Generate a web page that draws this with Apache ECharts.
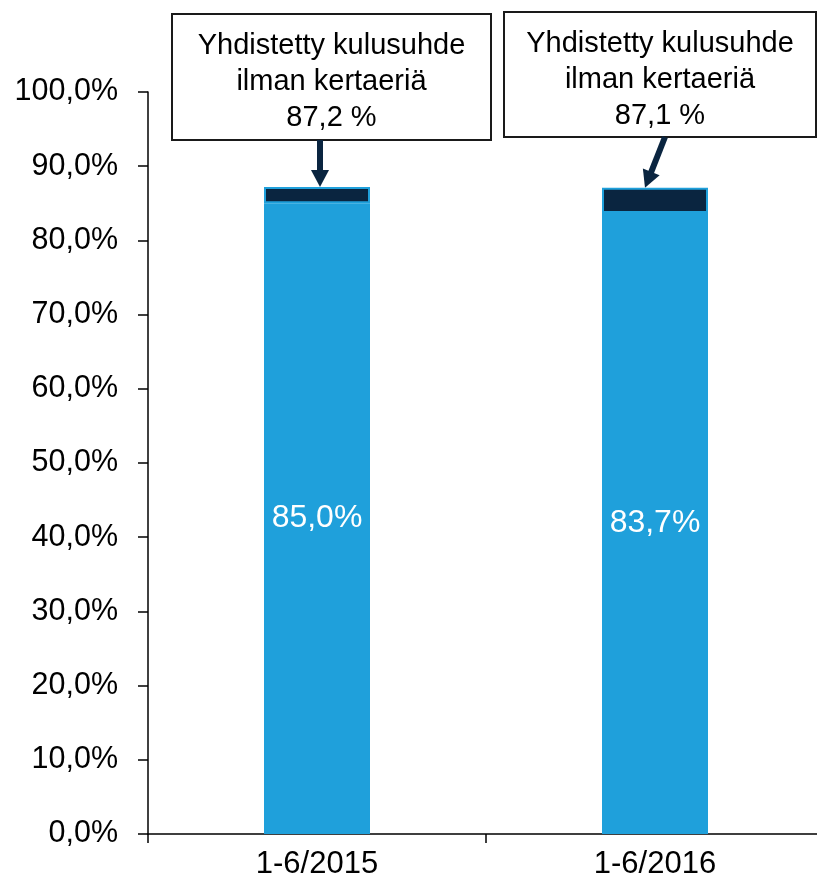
<!DOCTYPE html>
<html>
<head>
<meta charset="utf-8">
<script src="https://cdn.jsdelivr.net/npm/echarts@6/dist/echarts.min.js"></script>
<style>
html, body { margin: 0; padding: 0; background: #fff; }
#main { width: 817px; height: 883px; }
</style>
</head>
<body>
<div id="main"></div>
<script>
var categories = ['1-6/2015', '1-6/2016'];
var baseValues = [85.0, 83.7];
var totalValues = [87.2, 87.1];
var noteLines = ['Yhdistetty kulusuhde', 'ilman kertaeriä'];

// dark cap = total minus the base part
var capValues = totalValues.map(function (t, i) {
    return +(t - baseValues[i]).toFixed(1);
});

var FONT = '"Liberation Sans", Arial, sans-serif';
var lightBlue = '#1fa0db';
var darkBlue = '#0a2540';

var dom = document.getElementById('main');
var myChart = echarts.init(dom, null, {renderer: 'canvas'});

function pct(v) {
    return v.toFixed(1).replace('.', ',') + '%';
}

var option = {
    animation: false,
    backgroundColor: '#fff',
    grid: {left: 148, right: -7, top: 92, bottom: 49, outerBoundsMode: 'none', containLabel: false},
    xAxis: {
        type: 'category',
        data: categories,
        axisLine: {lineStyle: {color: '#000', width: 1.5}},
        axisTick: {show: true, length: 9, lineStyle: {color: '#000', width: 1.5}},
        axisLabel: {color: '#000', fontSize: 31, fontFamily: FONT, margin: 15}
    },
    yAxis: {
        type: 'value',
        min: 0,
        max: 100,
        interval: 10,
        axisLine: {show: true, lineStyle: {color: '#000', width: 1.5}},
        axisTick: {show: true, length: 10, lineStyle: {color: '#000', width: 1.5}},
        splitLine: {show: false},
        axisLabel: {
            color: '#000', fontSize: 30.5, fontFamily: FONT, margin: 30,
            formatter: pct
        }
    },
    series: [{
        type: 'bar',
        stack: 'a',
        data: baseValues,
        barWidth: 106,
        itemStyle: {color: lightBlue},
        label: {
            show: true,
            position: 'inside',
            color: '#fff',
            fontSize: 32,
            fontFamily: FONT,
            formatter: function (p) { return pct(p.value); }
        }
    }, {
        type: 'bar',
        stack: 'a',
        data: capValues,
        barWidth: 106,
        itemStyle: {color: darkBlue, borderColor: lightBlue, borderWidth: 2}
    }]
};
myChart.setOption(option);

// annotation boxes (layout) + arrows pointing to each bar's total
var boxes = [
    {x: 172, y: 14, w: 319, h: 126, from: [320, 140], dx: 3},
    {x: 504, y: 12, w: 312, h: 125, from: [665, 137], dx: -10}
];

var graphics = [];
boxes.forEach(function (b, i) {
    graphics.push({
        type: 'rect',
        shape: {x: b.x, y: b.y, width: b.w, height: b.h},
        style: {fill: '#fff', stroke: '#1a1a1a', lineWidth: 2}
    });
    graphics.push({
        type: 'text',
        x: b.x + b.w / 2,
        y: b.y + 14,
        style: {
            text: noteLines.concat([totalValues[i].toFixed(1).replace('.', ',') + ' %']).join('\n'),
            font: '29px ' + FONT,
            fill: '#000',
            align: 'center',
            verticalAlign: 'top',
            lineHeight: 36
        }
    });

    var tip = myChart.convertToPixel({seriesIndex: 0}, [i, totalValues[i]]);
    tip = [tip[0] + b.dx, tip[1]];
    var sx = b.from[0], sy = b.from[1];
    var dx = tip[0] - sx, dy = tip[1] - sy;
    var len = Math.sqrt(dx * dx + dy * dy);
    var ux = dx / len, uy = dy / len;
    var headLen = 17, headHalf = 9;
    var bx = tip[0] - ux * headLen, by = tip[1] - uy * headLen;
    graphics.push({
        type: 'line',
        shape: {x1: sx, y1: sy, x2: bx + ux, y2: by + uy},
        style: {stroke: darkBlue, lineWidth: 6}
    });
    graphics.push({
        type: 'polygon',
        shape: {points: [
            tip,
            [bx - uy * headHalf, by + ux * headHalf],
            [bx + uy * headHalf, by - ux * headHalf]
        ]},
        style: {fill: darkBlue}
    });
});

myChart.setOption({graphic: graphics});
</script>
</body>
</html>
